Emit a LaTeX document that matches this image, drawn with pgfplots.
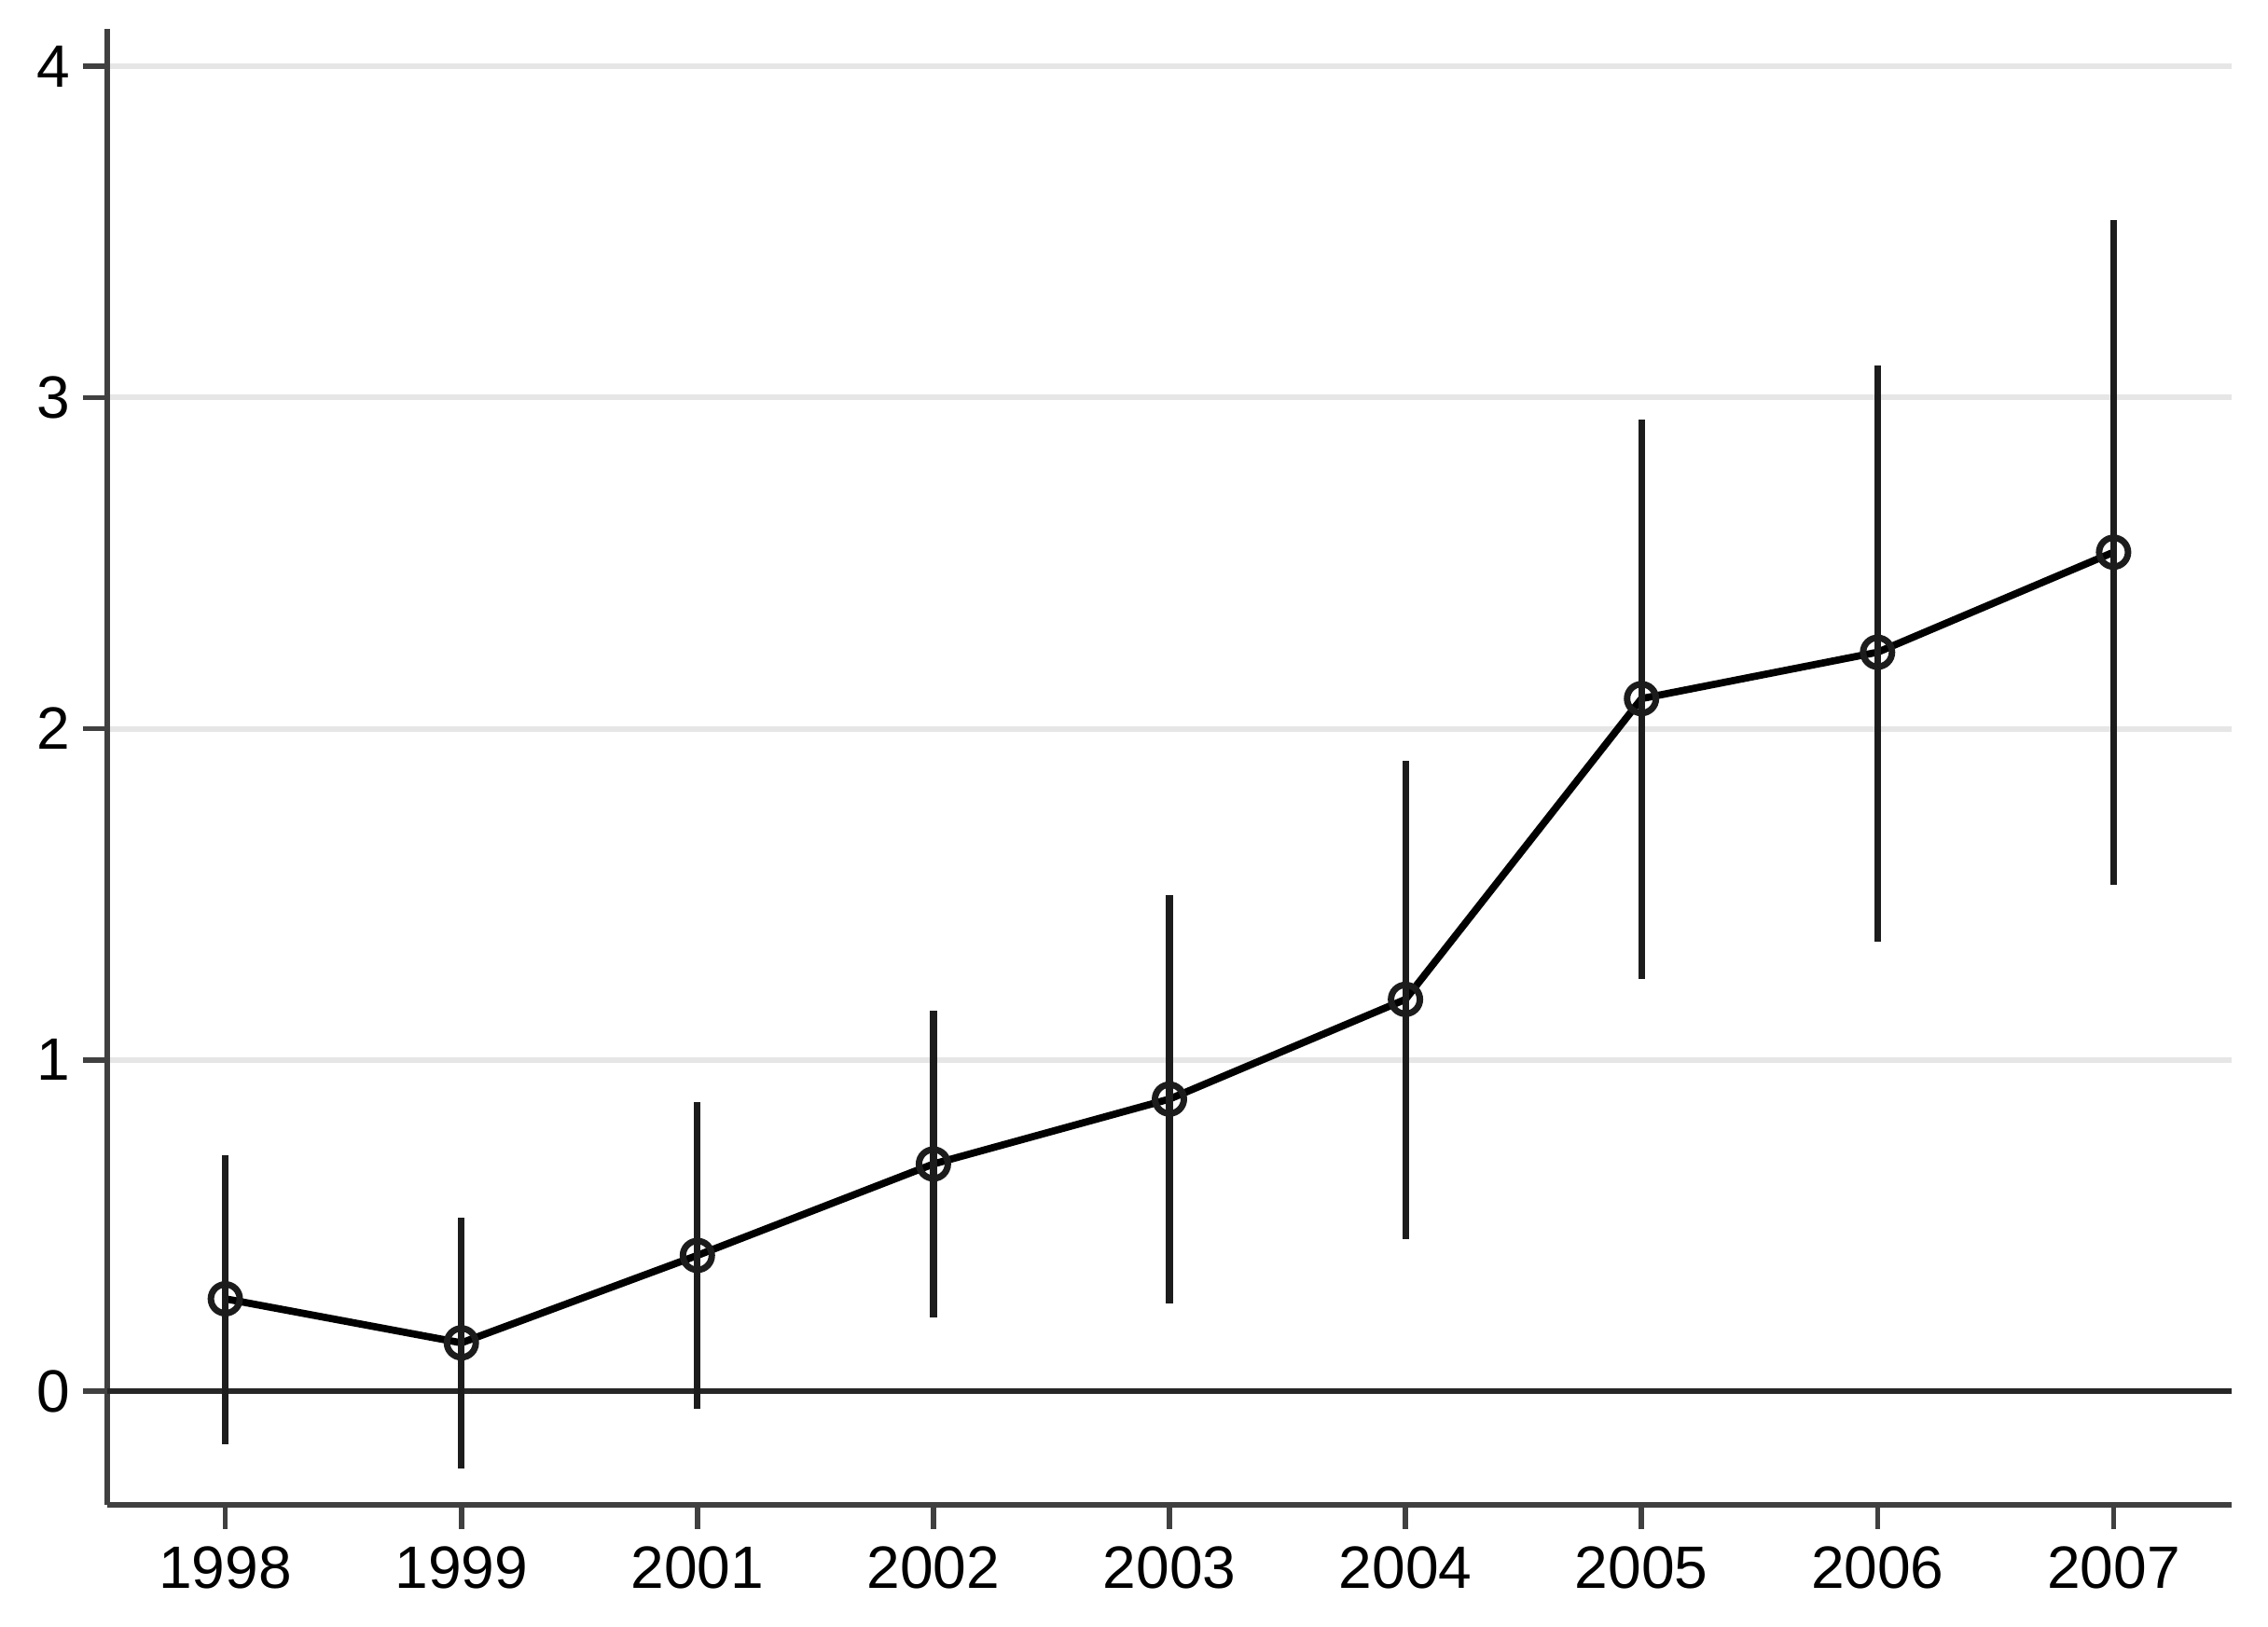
\documentclass[border=0pt]{standalone}
\usepackage{fontspec}
\setmainfont{Liberation Sans}
\usepackage{pgfplots}
\pgfplotsset{compat=1.18}
\usepackage{pgfplotstable}
\definecolor{gridgray}{HTML}{E6E6E6}
\definecolor{axisgray}{HTML}{404040}
\definecolor{bargray}{HTML}{1C1C1C}
\definecolor{zerogray}{HTML}{262626}
\pgfplotstableread{
x y lo hi
0 0.279 -0.160 0.712
1 0.146 -0.234 0.524
2 0.410 -0.052 0.873
3 0.686 0.223 1.148
4 0.882 0.266 1.498
5 1.183 0.459 1.904
6 2.091 1.245 2.934
7 2.231 1.358 3.096
8 2.533 1.528 3.537
}\datatable
\begin{document}
\begin{tikzpicture}
\begin{axis}[
  scale only axis, width=14.987cm, height=10.415cm,
  xmin=-0.5, xmax=8.5, ymin=-0.343, ymax=4.113,
  axis x line=bottom, axis y line=left,
  axis line style={-, line width=1.05pt, color=axisgray},
  xtick={0,...,8},
  xticklabels={1998,1999,2001,2002,2003,2004,2005,2006,2007},
  ytick={0,1,2,3,4},
  tick align=outside, major tick length=0.171cm,
  tick style={line width=1.05pt, color=axisgray},
  ymajorgrids, grid style={line width=1.15pt, color=gridgray},
  tick label style={font=\fontsize{12}{14}\selectfont},
  yticklabel style={xshift=1pt},
  /pgf/number format/assume math mode=true,
]
\coordinate (bl) at (rel axis cs:0,0);
\coordinate (tr) at (rel axis cs:1,1);
\addplot[line width=1.25pt, color=zerogray, forget plot] coordinates {(-0.5,0) (8.5,0)};
\addplot[line width=1.45pt, black, mark=o, mark size=2.9pt,
  mark options={line width=1.3pt, color=bargray}] table[x=x,y=y]{\datatable};
\addplot[draw=none, mark=none, forget plot,
  error bars/.cd, y dir=both, y explicit, error mark=none,
  error bar style={draw=bargray, line width=1.35pt}]
  table[x=x, y=y, y error plus expr=\thisrow{hi}-\thisrow{y},
        y error minus expr=\thisrow{y}-\thisrow{lo}]{\datatable};
\end{axis}
\path ([shift={(-0.757cm,-0.862cm)}]bl) rectangle ([shift={(0.257cm,0.204cm)}]tr);
\end{tikzpicture}
\end{document}
